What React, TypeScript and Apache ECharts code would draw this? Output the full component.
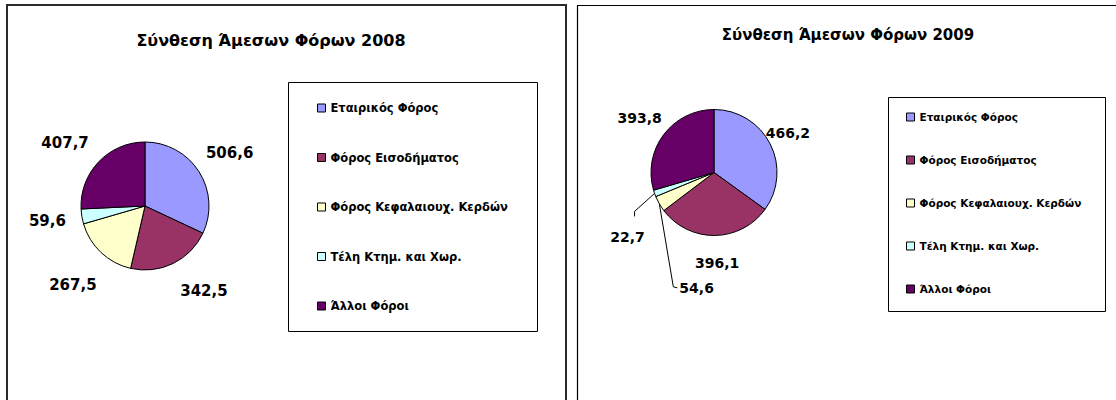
import React, { useEffect, useRef } from "react";
import * as echarts from "echarts";

const categories = [
  "Εταιρικός Φόρος",
  "Φόρος Εισοδήματος",
  "Φόρος Κεφαλαιουχ. Κερδών",
  "Τέλη Κτημ. και Χωρ.",
  "Άλλοι Φόροι",
];
const values2008 = [506.6, 342.5, 267.5, 59.6, 407.7];
const values2009 = [466.2, 396.1, 54.6, 22.7, 393.8];
const titles = ["Σύνθεση Άμεσων Φόρων 2008", "Σύνθεση Άμεσων Φόρων 2009"];
const sliceColors = ["#9999FF", "#993366", "#FFFFCC", "#CCFFFF", "#660066"];
// 2009 labels that Excel moved away and joined with a leader line
const leaderLabels2009 = [2, 3];

const FONT = "'DejaVu Sans', Verdana, sans-serif";
const fmt = (v: number) => v.toFixed(1).replace(".", ",");

// small label nudges (styling only) to mimic Excel's label placement
const NUDGE_2008: number[][] = [
  [-4, 3],
  [13, -9],
  [0, 3],
  [6, -2],
  [-4, 9],
];
const NUDGE_2009: number[][] = [
  [-9, 3],
  [2, -2],
  [0, 0],
  [0, 0],
  [0, 1],
];

export default function App() {
  const ref = useRef<HTMLDivElement>(null);

  useEffect(() => {
    if (!ref.current) return;
    const chart = echarts.init(ref.current, null, { renderer: "svg" });

    const legendData = () =>
      categories.map((n, i) => ({
        name: n,
        itemStyle: { color: sliceColors[i], borderColor: "#000", borderWidth: 1 },
      }));

    const option: any = {
      animation: false,
      color: sliceColors,
      graphic: [
        {
          type: "rect",
          shape: { x: 7, y: 5, width: 559, height: 430 },
          style: { fill: "none", stroke: "#2a2a2a", lineWidth: 2 },
          silent: true,
        },
        {
          type: "rect",
          shape: { x: 577.5, y: 5.5, width: 560, height: 430 },
          style: { fill: "none", stroke: "#000", lineWidth: 1.2 },
          silent: true,
        },
        {
          type: "rect",
          shape: { x: 288.5, y: 82.5, width: 249, height: 249 },
          style: { fill: "none", stroke: "#000", lineWidth: 1 },
          silent: true,
        },
        {
          type: "rect",
          shape: { x: 888.5, y: 97.5, width: 217, height: 214 },
          style: { fill: "none", stroke: "#000", lineWidth: 1 },
          silent: true,
        },
        {
          type: "text",
          x: 271,
          y: 40,
          style: {
            text: titles[0],
            fontSize: 16,
            fontWeight: "bold",
            fontFamily: FONT,
            fill: "#000",
            align: "center",
            verticalAlign: "middle",
          },
        },
        {
          type: "text",
          x: 848,
          y: 35,
          style: {
            text: titles[1],
            fontSize: 15,
            fontWeight: "bold",
            fontFamily: FONT,
            fill: "#000",
            align: "center",
            verticalAlign: "middle",
          },
        },
      ],
      legend: [
        {
          orient: "vertical",
          left: 317,
          top: 101,
          padding: 0,
          itemWidth: 8,
          itemHeight: 8,
          itemGap: 35.5,
          icon: "rect",
          selectedMode: false,
          textStyle: {
            fontSize: 11.5,
            fontWeight: "bold",
            fontFamily: FONT,
            color: "#000",
            lineHeight: 14,
          },
          data: legendData(),
        },
        {
          orient: "vertical",
          left: 906,
          top: 110.5,
          padding: 0,
          itemWidth: 8,
          itemHeight: 8,
          itemGap: 30,
          icon: "rect",
          selectedMode: false,
          textStyle: {
            fontSize: 10.5,
            fontWeight: "bold",
            fontFamily: FONT,
            color: "#000",
            lineHeight: 13,
          },
          data: legendData(),
        },
      ],
      series: [
        {
          type: "pie",
          name: "2008",
          center: [145, 206],
          radius: 64,
          startAngle: 90,
          clockwise: true,
          silent: true,
          avoidLabelOverlap: false,
          itemStyle: { borderColor: "#000", borderWidth: 1 },
          label: { show: false },
          labelLine: { show: false },
          emphasis: { disabled: true },
          data: categories.map((n, i) => ({ name: n, value: values2008[i] })),
        },
        {
          type: "pie",
          name: "2008 labels",
          center: [145, 206],
          radius: [96, 108],
          startAngle: 90,
          clockwise: true,
          silent: true,
          avoidLabelOverlap: false,
          itemStyle: { color: "rgba(0,0,0,0)", borderWidth: 0 },
          label: {
            show: true,
            position: "inside",
            formatter: (p: any) => fmt(p.value),
            fontSize: 15,
            fontWeight: "bold",
            fontFamily: FONT,
            color: "#000",
            textBorderWidth: 0,
          },
          labelLayout: (p: any) => ({
            dx: NUDGE_2008[p.dataIndex][0],
            dy: NUDGE_2008[p.dataIndex][1],
          }),
          labelLine: { show: false },
          emphasis: { disabled: true },
          data: categories.map((n, i) => ({ name: n, value: values2008[i] })),
        },
        {
          type: "pie",
          name: "2009",
          center: [714, 172.5],
          radius: 63,
          startAngle: 90,
          clockwise: true,
          silent: true,
          avoidLabelOverlap: false,
          itemStyle: { borderColor: "#000", borderWidth: 1 },
          label: {
            show: false,
            position: "outside",
            formatter: (p: any) => fmt(p.value),
            fontSize: 14,
            fontWeight: "bold",
            fontFamily: FONT,
            color: "#000",
          },
          labelLine: {
            show: true,
            length: 10,
            length2: 5,
            lineStyle: { color: "#000", width: 1 },
          },
          labelLayout: (params: any) => {
            const pts = params.labelLinePoints;
            if (!pts || !pts[0]) return {};
            const p0 = pts[0];
            if (params.dataIndex === 2) {
              return {
                x: p0[0] + 20,
                y: p0[1] + 84,
                align: "left",
                verticalAlign: "middle",
                labelLinePoints: [
                  [p0[0], p0[1]],
                  [p0[0] + 14, p0[1] + 83],
                  [p0[0] + 18, p0[1] + 84],
                ],
              };
            }
            if (params.dataIndex === 3) {
              return {
                x: p0[0] - 27,
                y: p0[1] + 44,
                align: "center",
                verticalAlign: "middle",
                labelLinePoints: [
                  [p0[0], p0[1]],
                  [p0[0] - 20, p0[1] + 18],
                  [p0[0] - 20, p0[1] + 23],
                ],
              };
            }
            return {};
          },
          emphasis: { disabled: true },
          data: categories.map((n, i) => ({
            name: n,
            value: values2009[i],
            label: { show: leaderLabels2009.includes(i) },
            labelLine: { show: leaderLabels2009.includes(i) },
          })),
        },
        {
          type: "pie",
          name: "2009 labels",
          center: [714, 172.5],
          radius: [84, 96],
          startAngle: 90,
          clockwise: true,
          silent: true,
          avoidLabelOverlap: false,
          itemStyle: { color: "rgba(0,0,0,0)", borderWidth: 0 },
          label: {
            show: true,
            position: "inside",
            formatter: (p: any) => fmt(p.value),
            fontSize: 14,
            fontWeight: "bold",
            fontFamily: FONT,
            color: "#000",
            textBorderWidth: 0,
          },
          labelLayout: (p: any) => ({
            dx: NUDGE_2009[p.dataIndex][0],
            dy: NUDGE_2009[p.dataIndex][1],
          }),
          labelLine: { show: false },
          emphasis: { disabled: true },
          data: categories.map((n, i) => ({
            name: n,
            value: values2009[i],
            label: { show: !leaderLabels2009.includes(i) },
          })),
        },
      ],
    };

    chart.setOption(option);
    return () => chart.dispose();
  }, []);

  return (
    <div
      ref={ref}
      style={{
        position: "fixed",
        left: 0,
        top: 0,
        width: 1116,
        height: 400,
        background: "#fff",
      }}
    />
  );
}
